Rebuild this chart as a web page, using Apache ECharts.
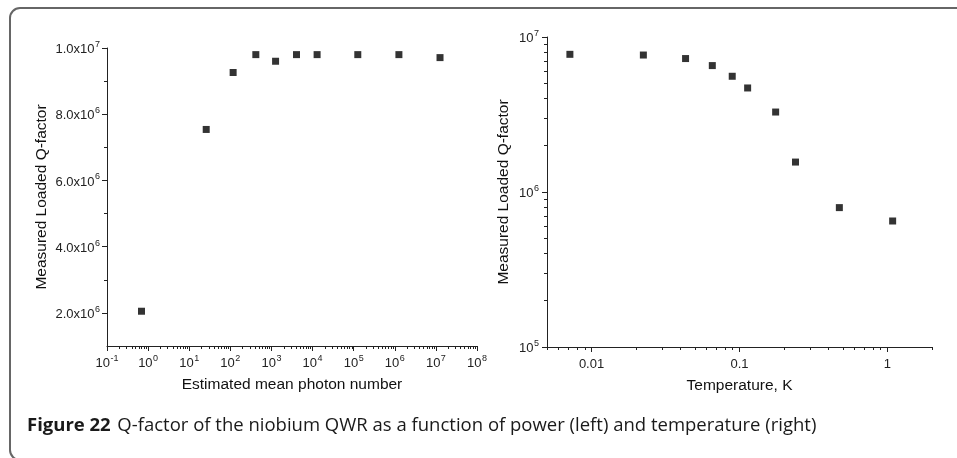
<!DOCTYPE html>
<html>
<head>
<meta charset="utf-8">
<script src="https://cdn.jsdelivr.net/npm/echarts@6/dist/echarts.min.js"></script>
<style>
html,body{margin:0;padding:0;background:#fff;}
#chart{width:957px;height:458px;}
</style>
</head>
<body>
<div id="chart"></div>
<script>
// ---- Data ----
const photonNumber = [0.69, 25.9, 117, 417, 1260, 4070, 12900, 126000, 1260000, 12600000];
const qVsPower     = [2.05e6, 7.54e6, 9.26e6, 9.80e6, 9.60e6, 9.80e6, 9.80e6, 9.80e6, 9.80e6, 9.71e6];
const temperatureK = [0.00714, 0.0224, 0.0432, 0.0655, 0.0893, 0.1135, 0.1755, 0.239, 0.473, 1.084];
const qVsTemp      = [7.73e6, 7.65e6, 7.26e6, 6.54e6, 5.58e6, 4.69e6, 3.28e6, 1.56e6, 7.93e5, 6.5e5];

// tick labels
const leftXDecades = [-1, 0, 1, 2, 3, 4, 5, 6, 7, 8];
const leftYLabels = [2e6, 4e6, 6e6, 8e6, 1e7];
const leftYMinor = [3e6, 5e6, 7e6, 9e6];
const rightXLabels = [0.01, 0.1, 1];
const rightYDecades = [5, 6, 7];

const xTitleLeft = 'Estimated mean photon number';
const xTitleRight = 'Temperature, K';
const yTitle = 'Measured Loaded Q-factor';
const captionBold = 'Figure 22';
const captionText = 'Q-factor of the niobium QWR as a function of power (left) and temperature (right)';

// ---- helpers ----
const FONT = '"Liberation Sans", Arial, sans-serif';
const axisColor = '#222';
const labelSize = 13;
const nameSize = 15.5;

function minorLog(fromExp, toExp, lo, hi) {
  const out = [];
  for (let e = fromExp; e <= toExp; e++) {
    for (let m = 2; m <= 9; m++) {
      const v = m * Math.pow(10, e);
      if (v >= lo * 0.9999 && v <= hi * 1.0001) out.push(v);
    }
  }
  return out;
}
const leftXMajor = leftXDecades.map(e => Math.pow(10, e));
const leftXMinor = minorLog(-1, 7, 0.1, 1e8);
const rightXMinor = minorLog(-3, 0, 0.005, 2);
const rightYMajor = rightYDecades.map(e => Math.pow(10, e));
const rightYMinor = minorLog(5, 6, 1e5, 1e7);

const rich = {
  b: {fontSize: labelSize, fontFamily: FONT, color: axisColor, lineHeight: 16, verticalAlign: 'bottom'},
  s: {fontSize: 9, fontFamily: FONT, color: axisColor, lineHeight: 16, verticalAlign: 'top', padding: [0,0,0,0.5]}
};
function sup(base, exp) { return '{b|' + base + '}{s|' + exp + '}'; }

const nameStyle = {fontSize: nameSize, fontFamily: FONT, color: '#111'};

function mainAxisCommon() {
  return {
    axisLine: {show: true, onZero: false, lineStyle: {color: axisColor, width: 1}},
    splitLine: {show: false},
    nameTextStyle: nameStyle
  };
}
function minorAxis(type, grid, pos, min, max, values) {
  return {
    type: type, gridIndex: grid, position: pos, offset: 0, min: min, max: max,
    logBase: 10,
    axisLine: {show: false, onZero: false},
    splitLine: {show: false},
    axisLabel: {show: false},
    axisTick: {show: true, length: 3, customValues: values, lineStyle: {color: axisColor, width: 1}},
    silent: true
  };
}

const chart = echarts.init(document.getElementById('chart'), null, {renderer: 'canvas'});
const option = {
  animation: false,
  backgroundColor: '#fff',
  grid: [
    {left: 107, top: 48, width: 370, height: 298},
    {left: 547, top: 37, width: 385, height: 310}
  ],
  xAxis: [
    Object.assign(mainAxisCommon(), {
      type: 'log', logBase: 10, gridIndex: 0, position: 'bottom', min: 0.1, max: 1e8,
      name: xTitleLeft, nameLocation: 'middle', nameGap: 31,
      axisTick: {show: true, length: 5, customValues: leftXMajor, lineStyle: {color: axisColor}},
      axisLabel: {
        customValues: leftXMajor, margin: 8,
        formatter: v => sup('10', String(Math.round(Math.log10(v)))),
        rich: rich
      }
    }),
    minorAxis('log', 0, 'bottom', 0.1, 1e8, leftXMinor),
    Object.assign(mainAxisCommon(), {
      type: 'log', logBase: 10, gridIndex: 1, position: 'bottom', min: 0.005, max: 2,
      name: xTitleRight, nameLocation: 'middle', nameGap: 31,
      axisTick: {show: true, length: 5, customValues: rightXLabels, lineStyle: {color: axisColor}},
      axisLabel: {
        customValues: rightXLabels, margin: 11,
        fontSize: labelSize, fontFamily: FONT, color: axisColor,
        formatter: v => String(v)
      }
    }),
    minorAxis('log', 1, 'bottom', 0.005, 2, rightXMinor)
  ],
  yAxis: [
    Object.assign(mainAxisCommon(), {
      type: 'value', gridIndex: 0, position: 'left', min: 1e6, max: 1e7, interval: 1e6,
      name: yTitle, nameLocation: 'middle', nameGap: 57, nameRotate: 90,
      axisTick: {show: true, length: 5, customValues: leftYLabels, lineStyle: {color: axisColor}},
      axisLabel: {
        customValues: leftYLabels, margin: 7,
        formatter: v => {
          const e = Math.floor(Math.log10(v) + 1e-9);
          const m = v / Math.pow(10, e);
          return sup(m.toFixed(1) + 'x10', String(e));
        },
        rich: rich
      }
    }),
    minorAxis('value', 0, 'left', 1e6, 1e7, leftYMinor),
    Object.assign(mainAxisCommon(), {
      type: 'log', logBase: 10, gridIndex: 1, position: 'left', min: 1e5, max: 1e7,
      name: yTitle, nameLocation: 'middle', nameGap: 35, nameRotate: 90,
      axisTick: {show: true, length: 5, customValues: rightYMajor, lineStyle: {color: axisColor}},
      axisLabel: {
        customValues: rightYMajor, margin: 8,
        formatter: v => sup('10', String(Math.round(Math.log10(v)))),
        rich: rich
      }
    }),
    minorAxis('log', 1, 'left', 1e5, 1e7, rightYMinor)
  ],
  series: [
    {
      type: 'scatter', xAxisIndex: 0, yAxisIndex: 0,
      symbol: 'rect', symbolSize: 7, itemStyle: {color: '#000'},
      data: photonNumber.map((x, i) => [x, qVsPower[i]])
    },
    {
      type: 'scatter', xAxisIndex: 2, yAxisIndex: 2,
      symbol: 'rect', symbolSize: 7, itemStyle: {color: '#000'},
      data: temperatureK.map((x, i) => [x, qVsTemp[i]])
    }
  ],
  graphic: [
    {
      type: 'rect', silent: true, z: -1,
      shape: {x: 10, y: 8, width: 1000, height: 452, r: 10},
      style: {fill: 'none', stroke: '#666', lineWidth: 2}
    },
    {
      type: 'text', left: 27, top: 416, silent: true,
      style: {
        text: '{fb|' + captionBold + '}  {ft|' + captionText + '}',
        rich: {
          fb: {fontSize: 18.5, fontWeight: 'bold', fontFamily: '"Open Sans", sans-serif', fill: '#1a1a1a'},
          ft: {fontSize: 18.5, fontFamily: '"Open Sans", sans-serif', fill: '#1a1a1a'}
        }
      }
    }
  ]
};
chart.setOption(option);
</script>
</body>
</html>
